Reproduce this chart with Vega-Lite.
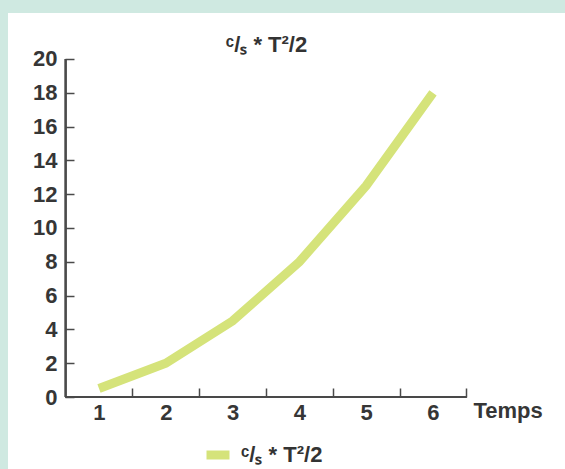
{
  "$schema": "https://vega.github.io/schema/vega-lite/v6.json",
  "width": 557,
  "height": 456,
  "autosize": {"type": "none"},
  "padding": {"left": 8, "top": 13, "right": 0, "bottom": 0},
  "background": "#cfe9e1",
  "config": {
    "view": {"fill": "white", "stroke": null},
    "font": "Liberation Sans"
  },
  "title": {
    "text": "ᶜ/ₛ * T²/2",
    "offset": -44,
    "dx": -20,
    "fontSize": 22,
    "fontWeight": "bold",
    "color": "#333333",
    "anchor": "middle"
  },
  "data": {
    "values": [
      {"t": 1, "v": 0.5, "serie": "ᶜ/ₛ * T²/2"},
      {"t": 2, "v": 2, "serie": "ᶜ/ₛ * T²/2"},
      {"t": 3, "v": 4.5, "serie": "ᶜ/ₛ * T²/2"},
      {"t": 4, "v": 8, "serie": "ᶜ/ₛ * T²/2"},
      {"t": 5, "v": 12.5, "serie": "ᶜ/ₛ * T²/2"},
      {"t": 6, "v": 18, "serie": "ᶜ/ₛ * T²/2"}
    ]
  },
  "layer": [
    {
      "mark": {"type": "line", "strokeWidth": 9, "strokeCap": "butt"},
      "encoding": {
        "x": {
          "field": "t",
          "type": "quantitative",
          "scale": {"domain": [-0.362, 7.976], "nice": false, "zero": false},
          "axis": {
            "title": "Temps",
            "values": [1, 2, 3, 4, 5, 6],
            "format": "d",
            "domain": false,
            "grid": false,
            "tickSize": -9,
            "tickOffset": 33.4,
            "labelOffset": -33.4,
            "tickColor": "#4a4a4a",
            "tickWidth": 1.5,
            "offset": -72,
            "labelFontSize": 22,
            "labelFontWeight": "bold",
            "labelColor": "#363636",
            "labelPadding": 14,
            "labelFlush": false,
            "labelOverlap": false,
            "titleX": 465,
            "titleY": 20,
            "titleAlign": "left",
            "titleAnchor": null,
            "titleBaseline": "alphabetic",
            "titleFontSize": 22,
            "titleFontWeight": "bold",
            "titleColor": "#363636"
          }
        },
        "y": {
          "field": "v",
          "type": "quantitative",
          "scale": {"domain": [-4.26, 22.72], "nice": false, "zero": false},
          "axis": {
            "title": null,
            "values": [0, 2, 4, 6, 8, 10, 12, 14, 16, 18, 20],
            "domain": false,
            "grid": false,
            "tickSize": -9,
            "tickColor": "#4a4a4a",
            "tickWidth": 1.5,
            "offset": -57,
            "labelFontSize": 22,
            "labelFontWeight": "bold",
            "labelColor": "#363636",
            "labelPadding": 17,
            "labelOverlap": false
          }
        },
        "color": {
          "field": "serie",
          "type": "nominal",
          "scale": {"range": ["#d5e37a"]},
          "legend": {
            "title": null,
            "orient": "none",
            "legendX": 194,
            "legendY": 426,
            "symbolType": "stroke",
            "symbolStrokeWidth": 9,
            "symbolSize": 529,
            "labelFontSize": 22,
            "labelFontWeight": "bold",
            "labelColor": "#333333",
            "labelOffset": 7,
            "labelLimit": 300
          }
        }
      }
    },
    {
      "mark": {"type": "rule", "color": "#4a4a4a", "strokeWidth": 1.5},
      "encoding": {
        "x": {"datum": 0.5, "type": "quantitative"},
        "x2": {"datum": 6.5},
        "y": {"datum": 0, "type": "quantitative"}
      }
    },
    {
      "mark": {"type": "rule", "color": "#4a4a4a", "strokeWidth": 1.5},
      "encoding": {
        "x": {"datum": 0.5, "type": "quantitative"},
        "y": {"datum": 0, "type": "quantitative"},
        "y2": {"datum": 20}
      }
    }
  ]
}
